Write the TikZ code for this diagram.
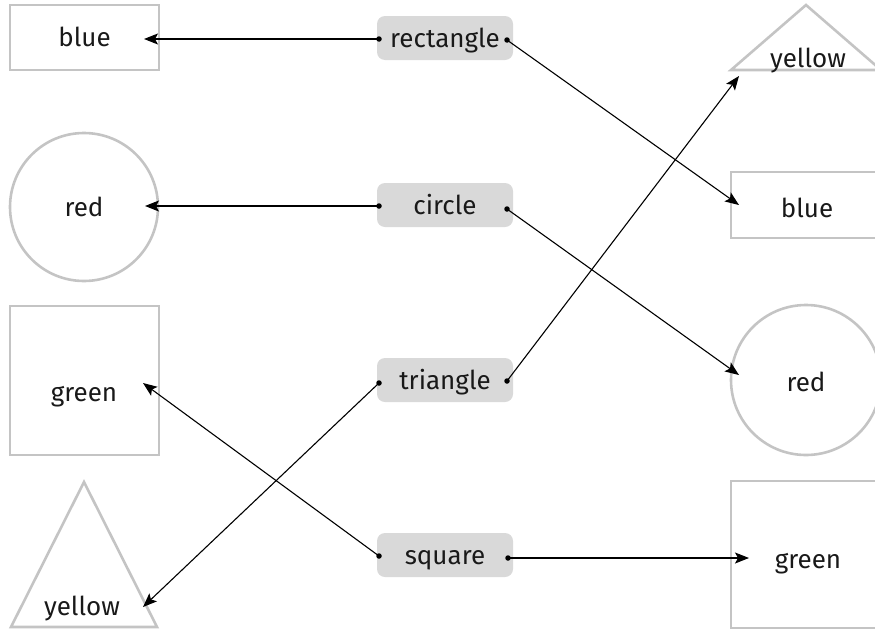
\documentclass[tikz,border=0pt]{standalone}
\usepackage{fontspec}
\setmainfont{Fira Sans}
\usetikzlibrary{arrows.meta}
\definecolor{shapegray}{HTML}{C4C4C4}
\definecolor{labgray}{HTML}{D9D9D9}
\begin{document}
\begin{tikzpicture}[x=1pt,y=-1pt,
  shapeline/.style={draw=shapegray,line width=2.6pt},
  txt/.style={font=\fontsize{26}{30}\selectfont, text=black!90, inner sep=0pt, text height=18.7pt, text depth=0pt},
  lab/.style={fill=labgray, rounded corners=8pt, minimum width=136pt, minimum height=44pt, inner sep=0pt, font=\fontsize{26}{30}\selectfont, text=black!90, text height=18.7pt, text depth=0pt},
  conn/.style={line width=1.1pt, -{Stealth[length=14pt,width=11pt,inset=3pt]}},
  dotmark/.style={circle, fill=black, inner sep=0pt, minimum size=5.5pt}]
\useasboundingbox (0,0) rectangle (875,632);
\clip (0,0) rectangle (875,632);
% left shapes
\draw[shapeline] (10,5) rectangle (159,70);
\node[txt] (lblue) at (84.5,37.5) {blue};
\draw[shapeline] (84,207) circle (74);
\node[txt] (lred) at (84,207.5) {red};
\draw[shapeline] (10,306) rectangle (159,455);
\node[txt] (lgreen) at (84,392) {green};
\draw[shapeline] (84,482) -- (157,627) -- (11,627) -- cycle;
\node[txt] (lyellow) at (82,606.5) {yellow};
% right shapes
\draw[shapeline] (806,5) -- (881,70) -- (731,70) -- cycle;
\node[txt] (ryellow) at (808,58.5) {yellow};
\draw[shapeline] (731,172) rectangle (885,238);
\node[txt] (rblue) at (807,208.5) {blue};
\draw[shapeline] (806,380) circle (75);
\node[txt] (rred) at (806,382.5) {red};
\draw[shapeline] (731,481) rectangle (881,628);
\node[txt] (rgreen) at (808,559.5) {green};
% labels
\node[lab] (lrect) at (445,38) {rectangle};
\node[lab] (lcirc) at (445,205) {circle};
\node[lab] (ltri) at (445,380) {triangle};
\node[lab] (lsq) at (445,555) {square};
% dots
\node[dotmark] (d1l) at (379,39) {};
\node[dotmark] (d1r) at (507,40) {};
\node[dotmark] (d2l) at (379,206) {};
\node[dotmark] (d2r) at (507,209) {};
\node[dotmark] (d3l) at (379,383) {};
\node[dotmark] (d3r) at (507,381) {};
\node[dotmark] (d4l) at (379,556) {};
\node[dotmark] (d4r) at (508,558) {};
% arrow ends
\coordinate (t1l) at (144,39);
\coordinate (t1r) at (739,205);
\coordinate (t2l) at (145,206);
\coordinate (t2r) at (739,375);
\coordinate (t3l) at (143,607);
\coordinate (t3r) at (739,76);
\coordinate (t4l) at (143,383);
\coordinate (t4r) at (749,558);
% connectors
\draw[conn] (d1l.center) -- (t1l);
\draw[conn] (d1r.center) -- (t1r);
\draw[conn] (d2l.center) -- (t2l);
\draw[conn] (d2r.center) -- (t2r);
\draw[conn] (d3l.center) -- (t3l);
\draw[conn] (d3r.center) -- (t3r);
\draw[conn] (d4l.center) -- (t4l);
\draw[conn] (d4r.center) -- (t4r);
\end{tikzpicture}
\end{document}
